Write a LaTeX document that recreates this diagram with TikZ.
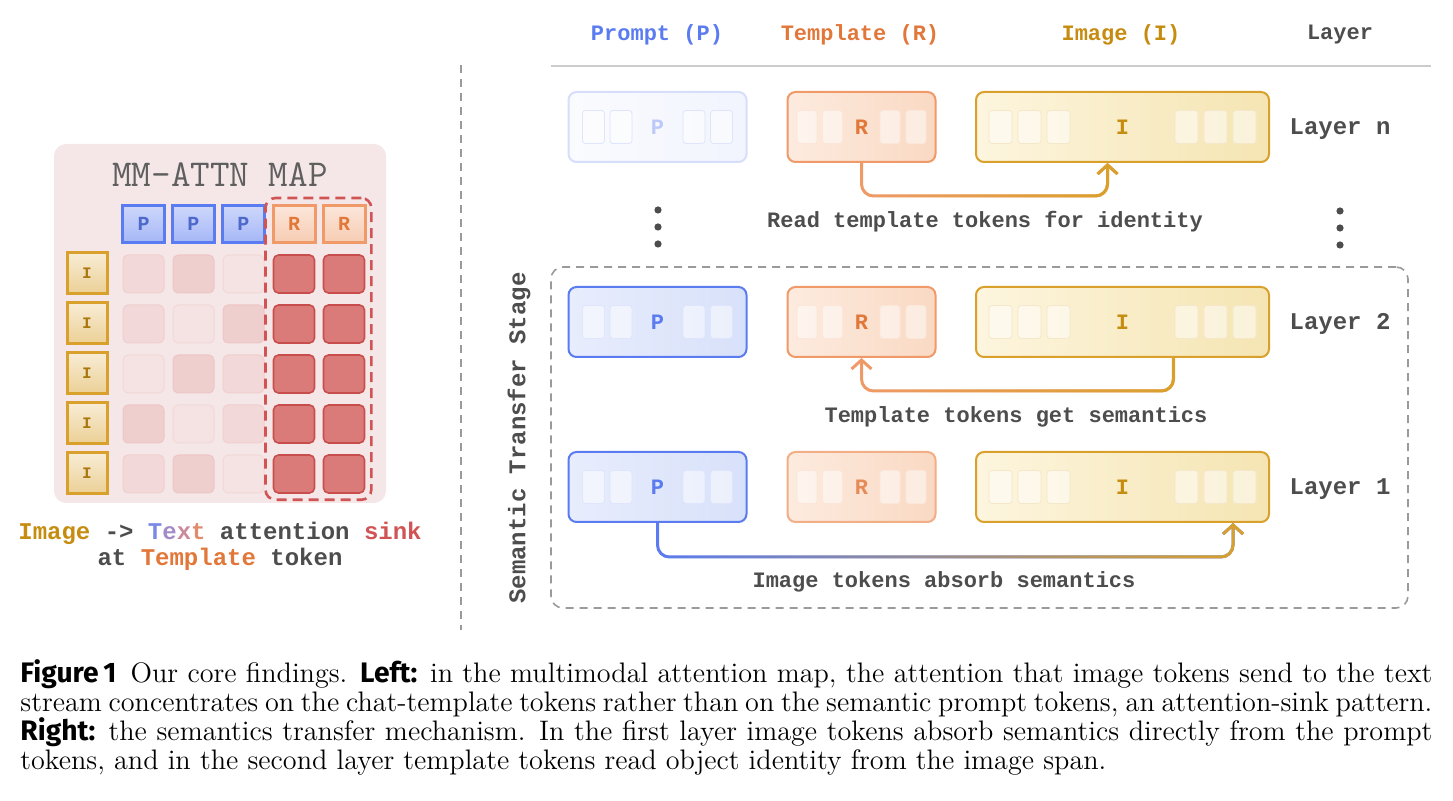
\documentclass[tikz,border=0pt]{standalone}
\usepackage{fontspec}
\usepackage{xcolor}
\usepackage{tikz}
\usetikzlibrary{arrows.meta, positioning, calc, fit, fadings}
\newfontfamily\monofont{Liberation Mono}
\newfontfamily\capsf{Fira Sans}
\definecolor{promptblue}{HTML}{5B7BF0}
\definecolor{promptfill}{HTML}{E8EDFD}
\definecolor{promptfilldk}{HTML}{D8E1FA}
\definecolor{tmplorange}{HTML}{EF9A68}
\definecolor{tmpltext}{HTML}{E2773A}
\definecolor{tmplfill}{HTML}{FDEBDF}
\definecolor{tmplfilldk}{HTML}{F9D9C3}
\definecolor{imggold}{HTML}{D9A12B}
\definecolor{imgtext}{HTML}{C68C10}
\definecolor{imgfill}{HTML}{FDF5DE}
\definecolor{imgfilldk}{HTML}{F5E5B3}
\definecolor{inkgray}{HTML}{4D4D4D}
\definecolor{panelpink}{HTML}{F5E7E7}
\definecolor{sinkred}{HTML}{DB7B79}
\definecolor{sinkedge}{HTML}{C84E4E}
\definecolor{sinkdash}{HTML}{D05454}
\definecolor{attnA}{HTML}{F5E2E2}
\definecolor{attnB}{HTML}{F2D8D8}
\definecolor{attnC}{HTML}{EFCECE}
\definecolor{rulegray}{HTML}{CCCCCC}
\definecolor{dashgray}{HTML}{9A9A9A}
\tikzfading[name=fadeinright, left color=transparent!100, right color=transparent!0]

\begin{document}
\begin{tikzpicture}[x=0.5pt, y=-0.5pt,
  hdr/.style={draw, line width=1.5pt, minimum width=21pt, minimum height=18.5pt, inner sep=0pt, font=\monofont\bfseries\fontsize{10}{12}\selectfont},
  hp/.style={hdr, draw=promptblue, text=promptblue!85!black, top color=promptblue!30, bottom color=promptblue!55},
  hr/.style={hdr, draw=tmplorange, text=tmpltext, top color=tmplorange!25, bottom color=tmplorange!50},
  hi/.style={hdr, draw=imggold, text=imgtext!85!black, minimum width=20pt, minimum height=20.5pt, top color=imggold!20, bottom color=imggold!50, font=\monofont\bfseries\fontsize{8}{10}\selectfont},
  cell/.style={draw, rounded corners=2.5pt, minimum width=20.5pt, minimum height=19pt, inner sep=0pt, line width=0.5pt},
  hot/.style={cell, fill=sinkred, draw=sinkedge, line width=0.8pt},
  sink/.style={draw=sinkdash, line width=1.3pt, dash pattern=on 5pt off 3pt, rounded corners=5pt, inner sep=3pt},
  lbl/.style={text=inkgray, font=\monofont\bfseries\fontsize{11}{13}\selectfont, inner sep=0pt},
  lblbig/.style={lbl, font=\monofont\bfseries\fontsize{12}{14}\selectfont},
  tok/.style={draw, line width=1pt, rounded corners=4pt, minimum height=35pt, inner sep=0pt, font=\monofont\bfseries\fontsize{11}{13}\selectfont},
  ptok/.style={tok, draw=promptblue, text=promptblue, left color=promptfill, right color=promptfilldk, minimum width=89pt},
  ptokfade/.style={tok, draw=promptblue!25, text=promptblue!40, left color=promptblue!3, right color=promptblue!8, minimum width=89pt},
  rtok/.style={tok, draw=tmplorange, text=tmpltext, left color=tmplfill, right color=tmplfilldk, minimum width=74pt},
  itok/.style={tok, draw=imggold, text=imgtext, left color=imgfill, right color=imgfilldk, minimum width=146.5pt},
  slot/.style={rounded corners=1.5pt, fill=white, fill opacity=0.5, line width=0.4pt, minimum height=16.5pt, inner sep=0pt},
  pslot/.style={slot, draw=promptblue!20, minimum width=11pt},
  rslot/.style={slot, draw=tmplorange!25, minimum width=10pt},
  islot/.style={slot, draw=imggold!25, minimum width=11.5pt},
  flow/.style={line width=1.5pt, rounded corners=6pt, line join=round, -{Straight Barb[length=4.5pt, width=10pt]}},
  dot/.style={circle, fill=inkgray, inner sep=0pt, minimum size=3.6pt},
  stagebox/.style={draw=dashgray, line width=0.8pt, dash pattern=on 4pt off 3pt, rounded corners=6pt, inner sep=0pt},
  capline/.style={anchor=base west, inner sep=0pt, font=\fontsize{14.1}{14.5}\selectfont}
]
\useasboundingbox (0,0) rectangle (1453,801);

% Attention map panel
\node[fill=panelpink, rounded corners=6pt, minimum width=166pt, minimum height=179.5pt, inner sep=0pt] (mappanel) at (220,323.5) {};
\node[font=\ttfamily\fontsize{19}{21}\selectfont, text=inkgray!90] (maptitle) at (220,175) {MM-ATTN MAP};

\foreach \x [count=\k] in {143.5,193.5,243.5}
  \node[hp] (ph\k) at (\x,224) {P};
\node[hr] (rh1) at (294,224) {R};
\node[hr] (rh2) at (344,224) {R};

\foreach \shades [count=\r] in {{B,C,A},{B,A,C},{A,C,B},{C,A,B},{B,C,A}} {
  \node[hi] (img\r) at (87,223.5+50*\r) {I};
  \foreach \s [count=\c] in \shades
    \node[cell, fill=attn\s, draw=attn\s!90!sinkred] (c\r\c) at (93.5+50*\c,224+50*\r) {};
  \node[hot] (c\r4) at (294,224+50*\r) {};
  \node[hot] (c\r5) at (344,224+50*\r) {};
}
\node[sink, fit=(rh1)(c55)] (sinkbox) {};

\node[lblbig] (mapcap1) at (220,533) {\textcolor{imgtext}{Image} -> \textcolor[HTML]{7A88E6}{T}\textcolor[HTML]{A18BC8}{e}\textcolor[HTML]{C98A9C}{x}\textcolor[HTML]{E18A6C}{t} attention \textcolor{sinkdash}{sink}};
\node[lblbig] (mapcap2) at (220,559) {at \textcolor{tmpltext}{Template} token};

% Separator
\draw[dashgray, line width=0.8pt, dash pattern=on 4pt off 3pt] (461,65) -- (461,630);

% Column headers
\node[lbl, text=promptblue] (hprompt) at (657,35) {Prompt (P)};
\node[lbl, text=tmpltext] (htmpl) at (860,35) {Template (R)};
\node[lbl, text=imgtext] (himage) at (1121,35) {Image (I)};
\node[lbl] (hlayer) at (1340,35) {Layer};
\draw[rulegray, line width=0.8pt] (551,66) -- (1431,66);

% Semantic transfer stage
\node[stagebox, minimum width=428.5pt, minimum height=170.5pt] (stage) at (979.5,437.5) {};
\node[lblbig, rotate=90] (stagelbl) at (519,438) {Semantic Transfer Stage};

% Layers
\node[ptokfade] (promptN) at (657.5,127) {P};
\node[rtok] (tmplN) at (861.5,127) {R};
\node[itok] (imageN) at (1122.5,127) {I};
\node[lblbig] (layerN) at (1340,129) {Layer n};

\node[ptok] (prompt2) at (657.5,322) {P};
\node[rtok] (tmpl2) at (861.5,322) {R};
\node[itok] (image2) at (1122.5,322) {I};
\node[lblbig] (layer2) at (1340,324) {Layer 2};

\node[ptok] (prompt1) at (657.5,487) {P};
\node[rtok, draw=tmplorange!80, text=tmpltext!85] (tmpl1) at (861.5,487) {R};
\node[itok] (image1) at (1122.5,487) {I};
\node[lblbig] (layer1) at (1340,489) {Layer 1};

\foreach \row in {N,2,1} {
  \foreach \d [count=\k] in {-64,-36.5,36.5,64}
    \node[pslot] (prompt\row s\k) at ($(prompt\row)+(\d,0)$) {};
  \foreach \d [count=\k] in {-54.5,-29,28.5,54.5}
    \node[rslot] (tmpl\row s\k) at ($(tmpl\row)+(\d,0)$) {};
  \foreach \d [count=\k] in {-122,-93,-64,64,93,122}
    \node[islot] (image\row s\k) at ($(image\row)+(\d,0)$) {};
}

% Ellipsis between layer n and layer 2
\foreach \y [count=\k] in {210,227,244} {
  \node[dot] (vdotl\k) at (658,\y) {};
  \node[dot] (vdotr\k) at (1340,\y+1) {};
}

% Flows
\draw[flow, tmplorange] (tmplN.south) -- ++(0,33) -| ($(imageN.south)+(-15,0)$);
\draw[flow, imggold, path fading=fadeinright] (tmplN.south) -- ++(0,33) -| ($(imageN.south)+(-15,0)$);
\node[lbl] (readlbl) at (985,222) {Read template tokens for identity};

\draw[flow, tmplorange] ($(image2.south)+(51,0)$) -- ++(0,33) -| (tmpl2.south);
\draw[flow, imggold, path fading=fadeinright] ($(image2.south)+(51,0)$) -- ++(0,33) -| (tmpl2.south);
\node[lbl] (getlbl) at (1016,417) {Template tokens get semantics};

\draw[flow, promptblue] (prompt1.south) -- ++(0,34) -| ($(image1.south)+(110.5,0)$);
\draw[flow, imggold, path fading=fadeinright] (prompt1.south) -- ++(0,34) -| ($(image1.south)+(110.5,0)$);
\node[lbl] (absorblbl) at (944,582) {Image tokens absorb semantics};

% Caption
\node[capline] (cap1) at (20,683) {\makebox[706pt][s]{{\capsf\bfseries Figure\,1}\enspace Our core findings. {\capsf\bfseries Left:} in the multimodal attention map, the attention that image tokens send to the text}};
\node[capline] (cap2) at (20,712) {\makebox[706pt][s]{stream concentrates on the chat-template tokens rather than on the semantic prompt tokens, an attention-sink pattern.}};
\node[capline] (cap3) at (20,741) {\makebox[706pt][s]{{\capsf\bfseries Right:} the semantics transfer mechanism. In the first layer image tokens absorb semantics directly from the prompt}};
\node[capline] (cap4) at (20,770) {tokens, and in the second layer template tokens read object identity from the image span.};
\end{tikzpicture}
\end{document}
